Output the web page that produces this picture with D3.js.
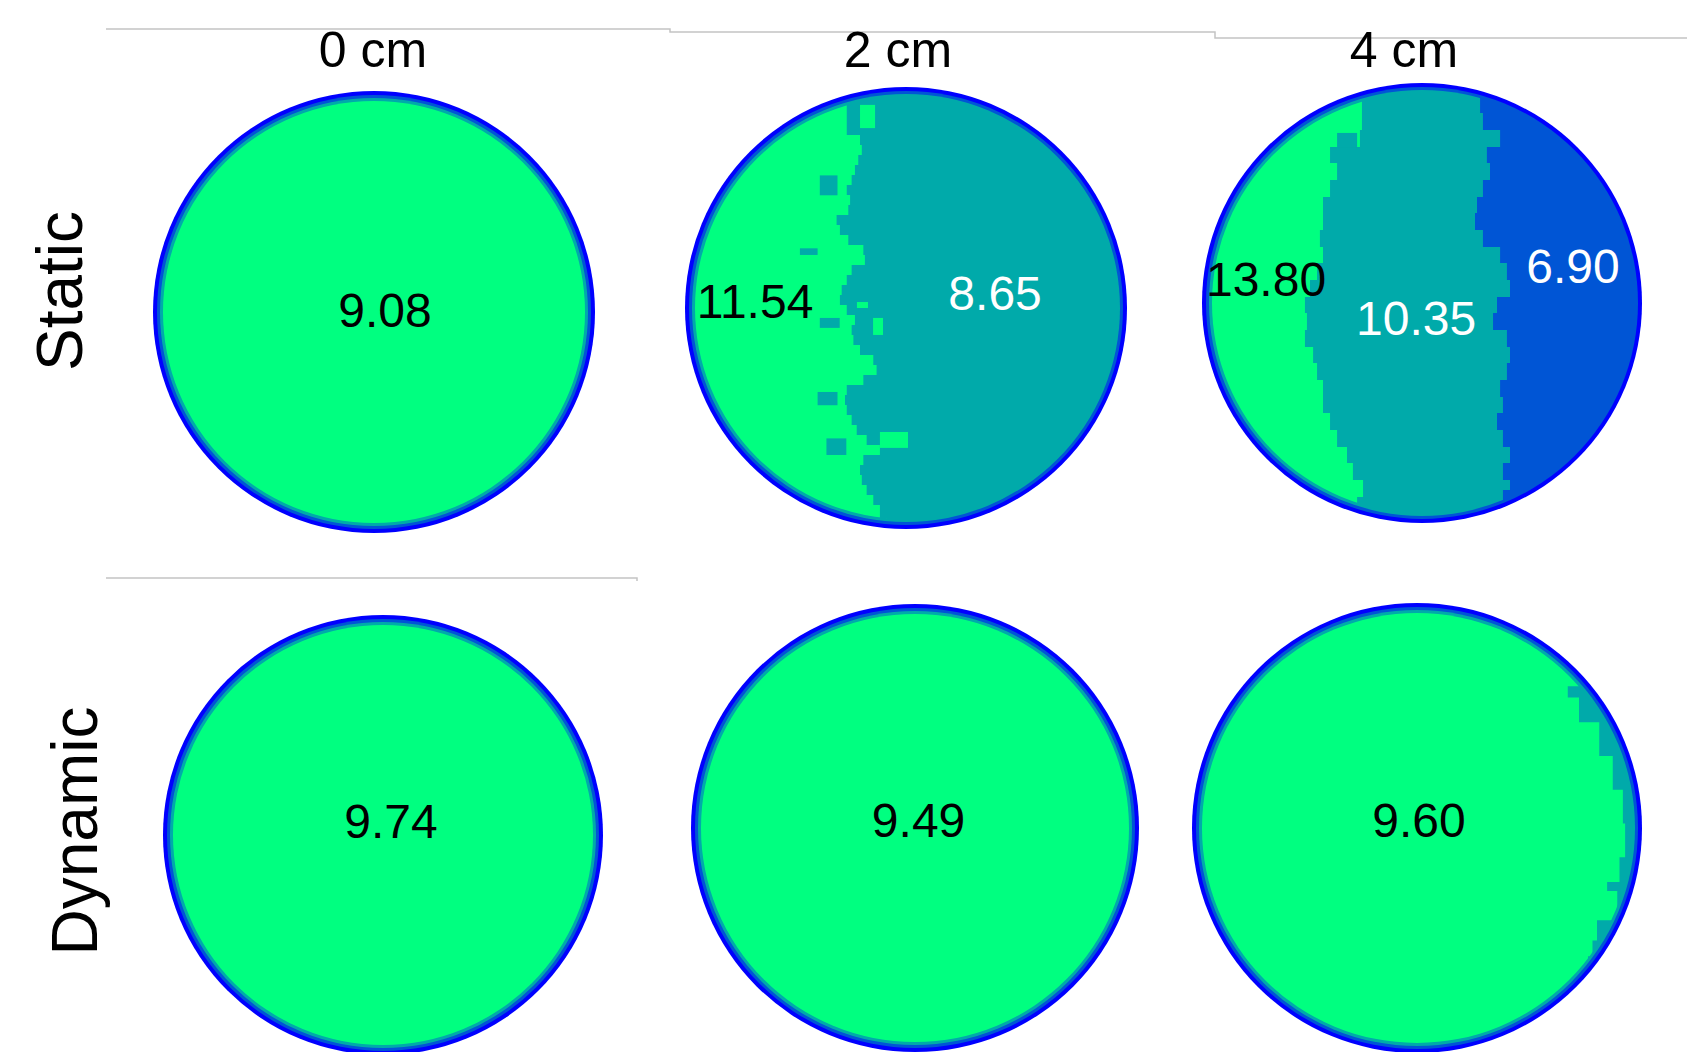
<!DOCTYPE html>
<html>
<head>
<meta charset="utf-8">
<script src="https://cdn.jsdelivr.net/npm/d3@7"></script>
<style>
  body { margin: 0; background: #fff; }
  svg { display: block; }
  text { font-family: "Liberation Sans", Arial, sans-serif; }
</style>
</head>
<body>
<div id="chart"></div>
<script>
// headings
var columns = ["0 cm", "2 cm", "4 cm"];
var rows = ["Static", "Dynamic"];

// zone values, left to right, for each column
var staticValues = [[9.08], [11.54, 8.65], [13.80, 10.35, 6.90]];
var dynamicValues = [[9.74], [9.49], [9.60]];

// colour band of each zone (4 = highest band)
var staticLevels = [[4], [4, 3], [4, 3, 2]];
var dynamicLevels = [[4], [4], [4, 3]];

// fronts between zones: [v, u] with v = -1 top .. 1 bottom, u = -1 left .. 1 right
var front2cm = [[-0.873,-0.268],[-0.828,-0.268],[-0.783,-0.208],[-0.738,-0.2],[-0.692,-0.216],[-0.647,-0.231],[-0.602,-0.246],
  [-0.557,-0.268],[-0.511,-0.253],[-0.466,-0.261],[-0.421,-0.314],[-0.376,-0.299],[-0.330,-0.261],[-0.285,-0.193],[-0.240,-0.186],
  [-0.195,-0.246],[-0.149,-0.268],[-0.104,-0.291],[-0.059,-0.299],[-0.014,-0.268],[0.032,-0.231],[0.077,-0.246],[0.122,-0.238],
  [0.167,-0.208],[0.213,-0.148],[0.258,-0.133],[0.303,-0.193],[0.348,-0.268],[0.394,-0.276],[0.439,-0.268],[0.484,-0.246],
  [0.529,-0.223],[0.575,-0.178],[0.62,-0.118],[0.665,-0.193],[0.71,-0.208],[0.756,-0.2],[0.801,-0.178],[0.846,-0.148],
  [0.891,-0.118],[0.95,-0.087]];
var front4cmA = [[-0.886,-0.273],[-0.864,-0.273],[-0.786,-0.282],[-0.709,-0.418],[-0.636,-0.386],[-0.559,-0.418],[-0.482,-0.45],
  [-0.409,-0.45],[-0.332,-0.464],[-0.255,-0.45],[-0.182,-0.477],[-0.105,-0.509],[-0.027,-0.532],[0.045,-0.523],[0.123,-0.532],
  [0.2,-0.495],[0.273,-0.477],[0.35,-0.45],[0.427,-0.45],[0.5,-0.418],[0.577,-0.386],[0.655,-0.341],[0.727,-0.314],
  [0.805,-0.268],[0.882,-0.295]];
var front4cmB = [[-0.891,0.264],[-0.864,0.277],[-0.786,0.355],[-0.709,0.295],[-0.636,0.309],[-0.559,0.277],[-0.482,0.25],
  [-0.409,0.241],[-0.332,0.277],[-0.255,0.355],[-0.182,0.386],[-0.105,0.4],[-0.027,0.341],[0.045,0.323],[0.123,0.386],
  [0.2,0.4],[0.273,0.386],[0.35,0.355],[0.427,0.368],[0.5,0.341],[0.577,0.368],[0.655,0.4],[0.727,0.368],[0.805,0.4],[0.85,0.368]];
var frontDyn4cm = [[-0.7,0.9],[-0.63,0.67],[-0.58,0.72],[-0.47,0.81],[-0.32,0.87],[-0.17,0.915],[-0.02,0.925],[0.13,0.9],
  [0.24,0.845],[0.28,0.89],[0.41,0.8],[0.5,0.78],[0.57,0.76],[0.62,0.9]];

var staticFronts = [[], [front2cm], [front4cmA, front4cmB]];
var dynamicFronts = [[], [], [frontDyn4cm]];

// patches left on the wrong side of a front: [u0, v0, u1, v1, band]
var patches2cm = [[-0.208,-0.919,-0.14,-0.814,4],[-0.149,0.045,-0.104,0.122,4],[-0.118,0.561,0.009,0.633,4],
  [-0.222,-0.027,-0.172,0,4],[-0.39,-0.6,-0.31,-0.51,3],[-0.48,-0.27,-0.4,-0.24,3],[-0.39,0.045,-0.3,0.09,3],
  [-0.4,0.38,-0.31,0.44,3],[-0.36,0.59,-0.27,0.665,3]];
var patches4cm = [[-0.386,-0.773,-0.295,-0.709,3]];
var staticPatches = [[], patches2cm, patches4cm];

// ---- layout ----
var W = 1696, H = 1052;
var panels = [
  [[374, 312, 221], [906, 308, 221], [1422, 303, 220]],
  [[383, 835, 220], [915, 828, 224], [1417, 828, 225]]
];
var labelSpots = [
  [[[0.05, 0.068]], [[-0.683, 0.045], [0.403, 0.009]], [[-0.709, -0.032], [-0.027, 0.145], [0.686, -0.091]]],
  [[[0.036, 0.014]], [[0.016, 0.04]], [[0.009, 0.04]]]
];
var colTitleX = [373, 898, 1404];
var rowTitlePos = [[82, 291], [97, 831]];

var bandColor = d3.scaleOrdinal().domain([1, 2, 3, 4]).range(["#0000ff", "#0055d5", "#00aaaa", "#00ff80"]);
var bandInset = d3.scaleOrdinal().domain([1, 2, 3, 4]).range([0, 4, 7, 10]);

var svg = d3.select("#chart").append("svg").attr("width", W).attr("height", H);
var defs = svg.append("defs");

// faint rules left over from the table
var rule = d3.line();
svg.append("path").attr("d", rule([[106, 29], [670, 29], [670, 32], [1215, 32], [1215, 38], [1687, 38]]))
  .attr("fill", "none").attr("stroke", "#c4c4c4").attr("stroke-width", 1.5);
svg.append("path").attr("d", rule([[106, 578], [637, 578], [637, 581]]))
  .attr("fill", "none").attr("stroke", "#c4c4c4").attr("stroke-width", 1.5);

svg.selectAll("text.col").data(columns).enter().append("text")
  .attr("class", "col")
  .attr("x", function(d, i) { return colTitleX[i]; })
  .attr("y", 67)
  .attr("text-anchor", "middle")
  .attr("font-size", "50px")
  .text(function(d) { return d; });

svg.selectAll("text.row").data(rows).enter().append("text")
  .attr("class", "row")
  .attr("transform", function(d, i) { return "translate(" + rowTitlePos[i][0] + "," + rowTitlePos[i][1] + ") rotate(-90)"; })
  .attr("text-anchor", "middle")
  .attr("font-size", "64px")
  .text(function(d) { return d; });

function drawPanel(ri, ci, values, levels, fronts, patches) {
  var p = panels[ri][ci];
  var cx = p[0], cy = p[1], r = p[2];
  var x = d3.scaleLinear().domain([-1, 1]).range([cx - r, cx + r]);
  var y = d3.scaleLinear().domain([-1, 1]).range([cy - r, cy + r]);
  var g = svg.append("g");
  var id = "p" + ri + ci;

  // outermost band
  g.append("circle").attr("cx", cx).attr("cy", cy).attr("r", r).attr("fill", bandColor(1));

  var edge = d3.line()
    .x(function(d) { return x(d[1]); })
    .y(function(d) { return y(d[0]); })
    .curve(d3.curveStepBefore);

  [2, 3, 4].forEach(function(L) {
    if (levels[0] < L) return;
    var clipId = id + "c" + L;
    defs.append("clipPath").attr("id", clipId)
      .append("circle").attr("cx", cx).attr("cy", cy).attr("r", r - bandInset(L));
    // last zone still at or above band L
    var k = levels.findIndex(function(lv, j) { return lv >= L && (j == levels.length - 1 || levels[j + 1] < L); });
    if (k == levels.length - 1) {
      g.append("circle").attr("cx", cx).attr("cy", cy).attr("r", r - bandInset(L)).attr("fill", bandColor(L));
    } else {
      var f = fronts[k];
      var pts = [[-1.2, -1.2], [-1.2, f[0][1]]].concat(f).concat([[1.2, f[f.length - 1][1]], [1.2, -1.2]]);
      g.append("path").attr("d", edge(pts) + "Z")
        .attr("fill", bandColor(L))
        .attr("clip-path", "url(#" + clipId + ")");
    }
  });

  if (patches && patches.length) {
    g.append("g").attr("clip-path", "url(#" + id + "c4)")
      .selectAll("rect").data(patches).enter().append("rect")
      .attr("x", function(d) { return x(d[0]); })
      .attr("y", function(d) { return y(d[1]); })
      .attr("width", function(d) { return x(d[2]) - x(d[0]); })
      .attr("height", function(d) { return y(d[3]) - y(d[1]); })
      .attr("fill", function(d) { return bandColor(d[4]); });
  }

  g.selectAll("text").data(values).enter().append("text")
    .attr("x", function(d, i) { return x(labelSpots[ri][ci][i][0]); })
    .attr("y", function(d, i) { return y(labelSpots[ri][ci][i][1]); })
    .attr("text-anchor", "middle")
    .attr("font-size", "48px")
    .attr("fill", function(d, i) { return levels[i] == 4 ? "#000" : "#fff"; })
    .text(function(d) { return d.toFixed(2); });
}

columns.forEach(function(c, ci) {
  drawPanel(0, ci, staticValues[ci], staticLevels[ci], staticFronts[ci], staticPatches[ci]);
  drawPanel(1, ci, dynamicValues[ci], dynamicLevels[ci], dynamicFronts[ci], null);
});
</script>
</body>
</html>
